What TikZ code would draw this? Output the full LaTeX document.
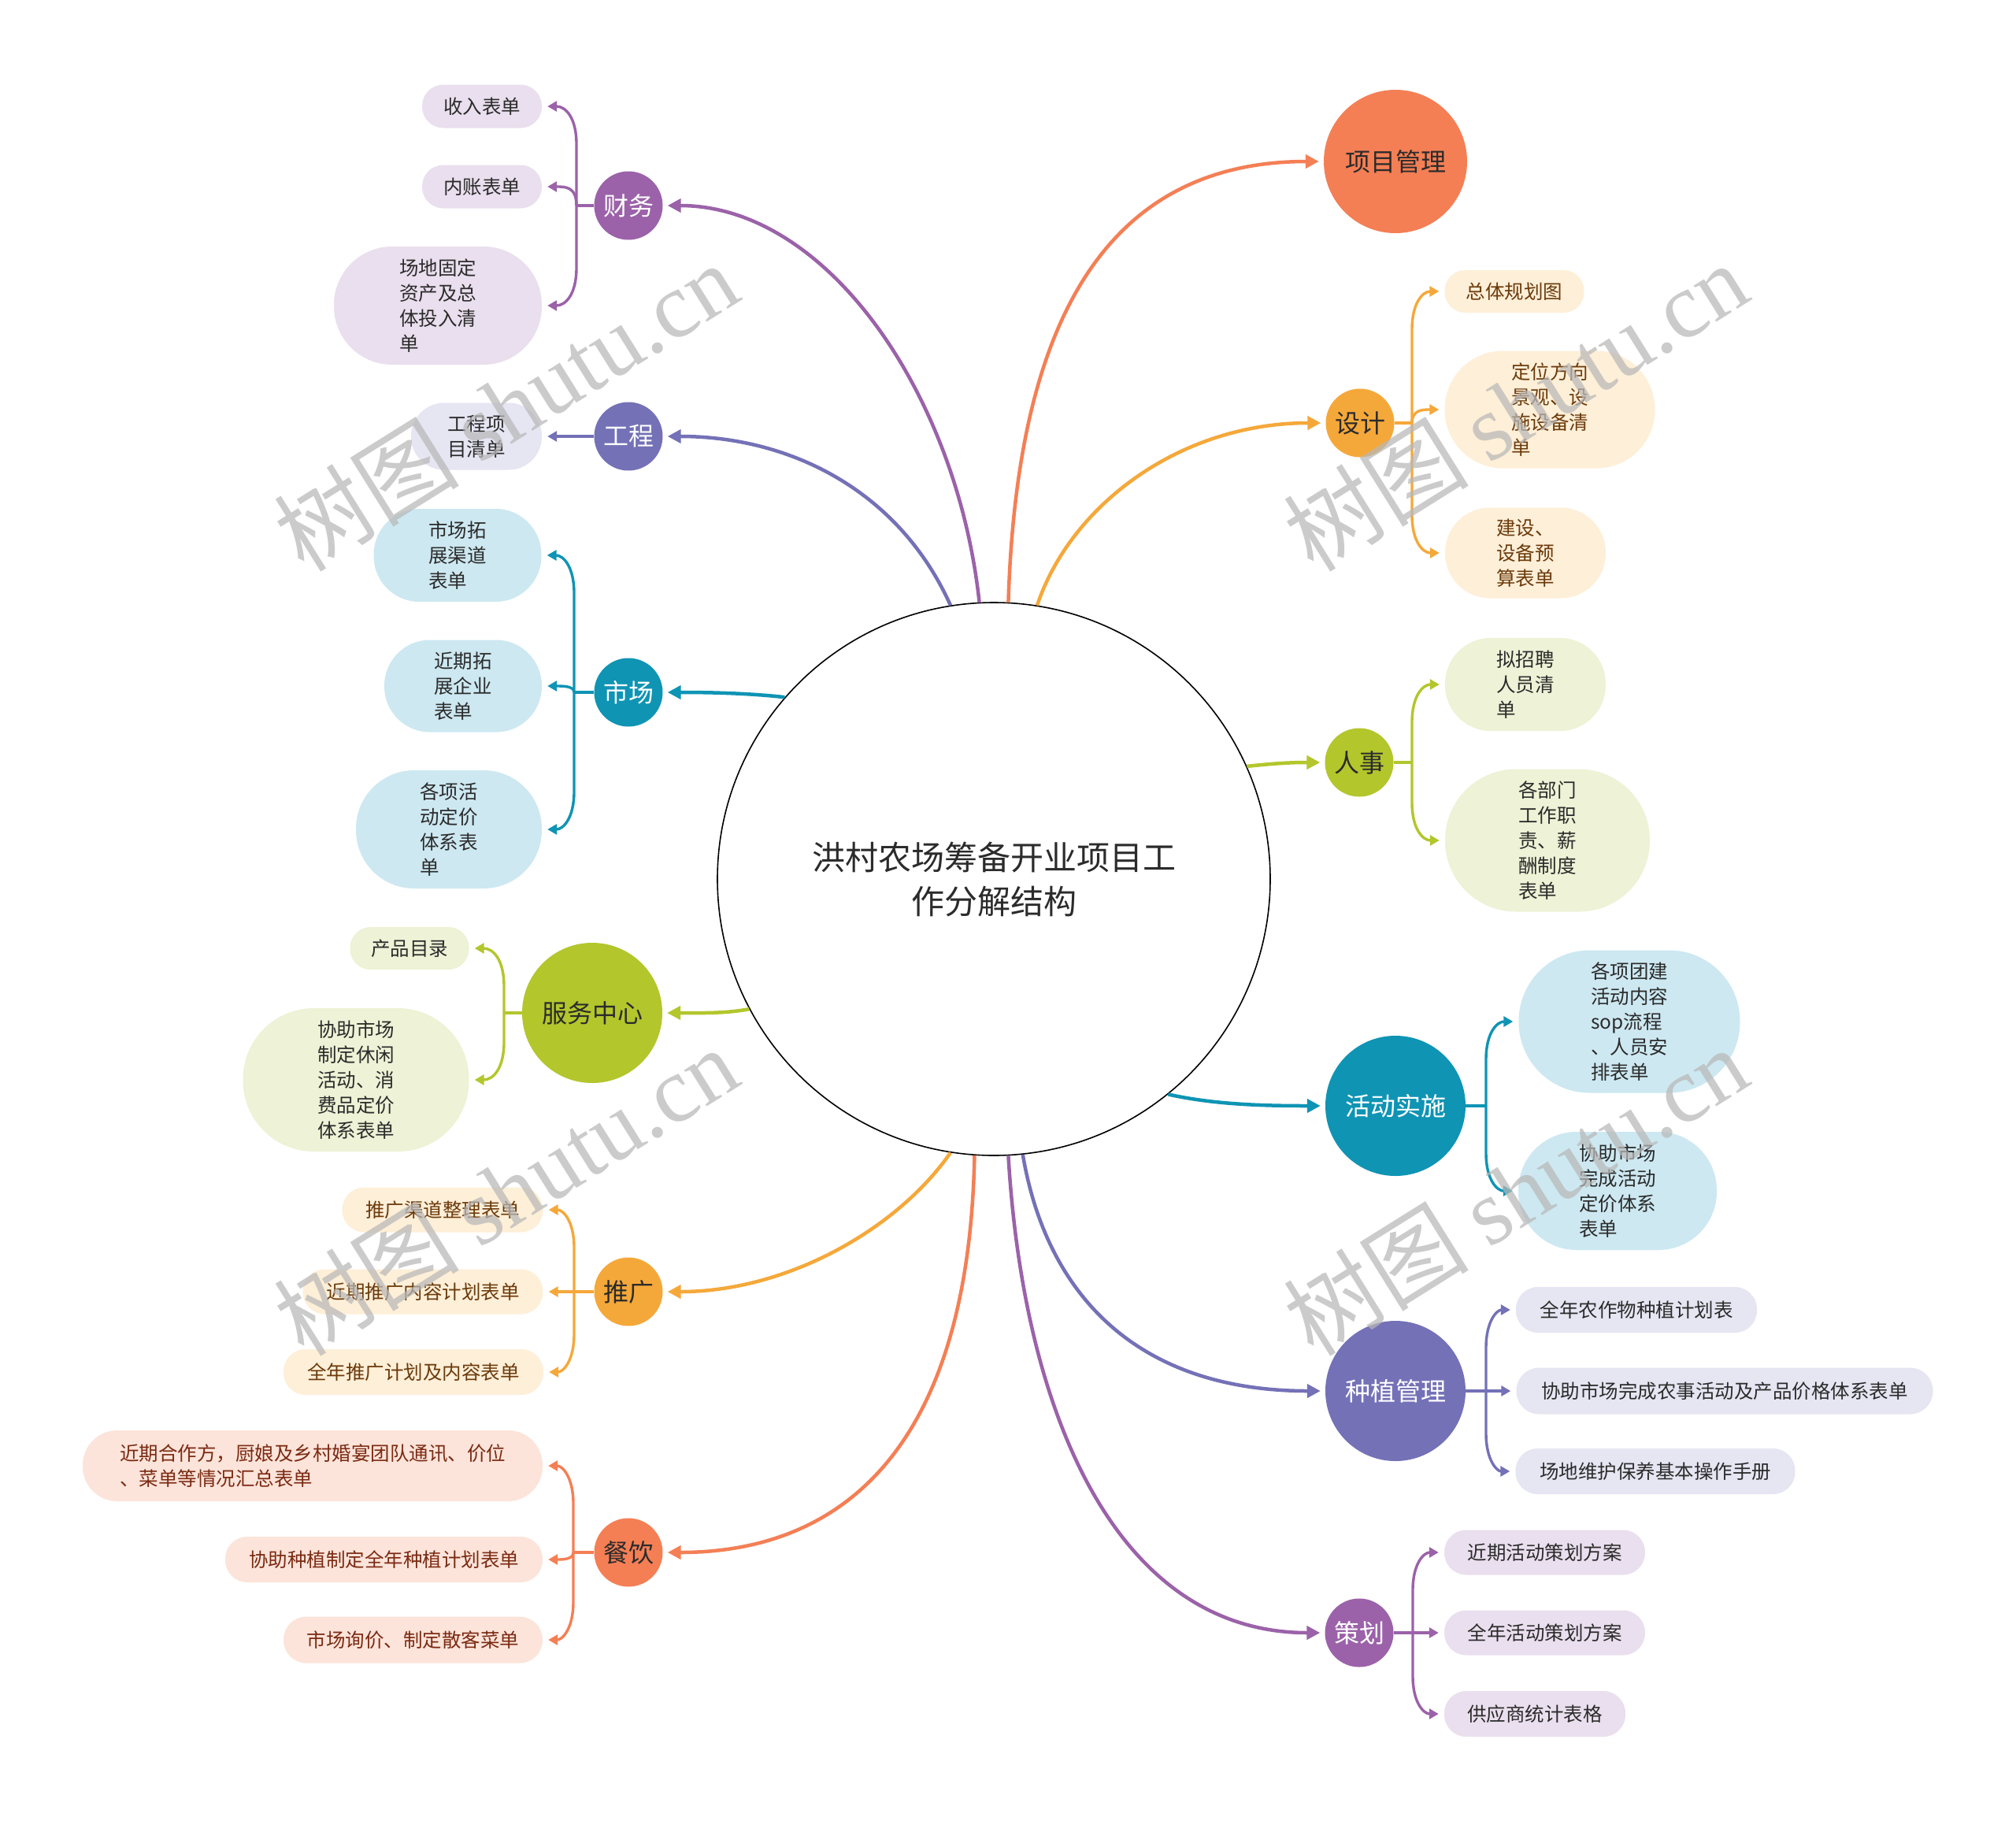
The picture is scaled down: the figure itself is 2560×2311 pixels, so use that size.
\documentclass[tikz,border=0pt]{standalone}
\usepackage{fontspec}
\setmainfont{Noto Sans CJK SC}
\newfontfamily\wmserif{Liberation Serif}
\usetikzlibrary{arrows.meta,calc}
\definecolor{cPur}{HTML}{9B62A9}
\definecolor{cVio}{HTML}{7471B7}
\definecolor{cTeal}{HTML}{0F94B4}
\definecolor{cGrn}{HTML}{B3C62C}
\definecolor{cYel}{HTML}{F5A83A}
\definecolor{cSal}{HTML}{F47F55}
\definecolor{lPur}{HTML}{EADFEE}
\definecolor{lVio}{HTML}{E6E5F2}
\definecolor{lTeal}{HTML}{CDE8F1}
\definecolor{lGrn}{HTML}{EEF2D6}
\definecolor{lYel}{HTML}{FEEFD8}
\definecolor{lSal}{HTML}{FCE4DA}
\definecolor{tYel}{HTML}{6B3A0B}
\definecolor{tSal}{HTML}{7B2A12}
\definecolor{tDark}{HTML}{2B2B2B}
\tikzset{
  mainline/.style={line width=4.5pt, -{Triangle[length=17pt,width=17pt]}, shorten >=6pt},
  subline/.style={line width=3.4pt, -{Triangle[length=12pt,width=13pt]}, shorten >=7pt},
  stub/.style={line width=3.4pt},
  bigc/.style={circle, minimum size=178pt, inner sep=0pt, font=\fontsize{32}{38}\selectfont},
  smc/.style={circle, minimum size=87pt, inner sep=0pt, font=\fontsize{32}{38}\selectfont},
  leaf/.style={rectangle, inner sep=0pt, align=left, font=\fontsize{24.5}{32}\selectfont},
  pill/.style n args={3}{minimum width=#1pt, minimum height=#2pt, rounded corners=#3pt},
  wm/.style={font=\fontsize{118}{118}\selectfont, text=black!28, text opacity=0.72, rotate=32},
}
\newcommand\kidfar[5]{%
  \draw[subline,#1] (#2) -- ($(#2 |- #3)+(0,{-48*#4})$) .. controls ($(#2 |- #3)+(0,{-14*#4})$) and ($(#2 |- #3)+({14*#5},0)$) .. (#3);}
\newcommand\kidnear[4]{%
  \draw[subline,#1] (#2) .. controls ($(#2 |- #3)$) and ($(#2 |- #3)+({14*#4},0)$) .. (#3);}
\begin{document}
\begin{tikzpicture}[x=1pt,y=1pt]
\fill[white] (0,0) rectangle (2560,-2311);
\useasboundingbox (0,0) rectangle (2560,-2311);

% centre
\node[circle, draw=black, line width=1.6pt, fill=white, minimum size=702pt, inner sep=0pt,
  align=center, font=\fontsize{42}{56}\selectfont, text=tDark] (c) at (1262,-1116)
  {洪村农场筹备开业项目工\\作分解结构};

% main topics
\node[bigc, fill=cSal, text=tDark, minimum size=182pt] (pm) at (1772,-205) {项目管理};
\node[smc, fill=cYel, text=tDark] (sj) at (1727,-537) {设计};
\node[smc, fill=cGrn, text=tDark] (rs) at (1726,-968) {人事};
\node[bigc, fill=cTeal, text=white] (hd) at (1772,-1404) {活动实施};
\node[bigc, fill=cVio, text=white] (zz) at (1772,-1766) {种植管理};
\node[smc, fill=cPur, text=white] (ch) at (1726,-2073) {策划};
\node[smc, fill=cPur, text=white] (cw) at (798,-261) {财务};
\node[smc, fill=cVio, text=white] (gc) at (798,-554) {工程};
\node[smc, fill=cTeal, text=white] (sc) at (798,-879) {市场};
\node[bigc, fill=cGrn, text=tDark] (fw) at (752,-1286) {服务中心};
\node[smc, fill=cYel, text=tDark] (tg) at (798,-1640) {推广};
\node[smc, fill=cSal, text=tDark] (cy) at (798,-1971) {餐饮};

% junctions
\coordinate (j1) at (732,-261);
\coordinate (j3) at (729,-879);
\coordinate (j4) at (640,-1286);
\coordinate (j5) at (729,-1640);
\coordinate (j6) at (728,-1971);
\coordinate (k1) at (1793,-537);
\coordinate (k2) at (1793,-968);
\coordinate (k3) at (1887,-1404);
\coordinate (k4) at (1887,-1766);
\coordinate (k5) at (1794,-2073);

% leaves: 财务
\node[leaf, pill={152}{55}{27}, fill=lPur, text=tDark] (f1) at (612,-135) {收入表单};
\node[leaf, pill={152}{55}{27}, fill=lPur, text=tDark] (f2) at (612,-237) {内账表单};
\node[leaf, pill={264}{150}{74}, fill=lPur, text=tDark] (f3) at (556,-388) {场地固定\\资产及总\\体投入清\\单};
% 工程
\node[leaf, pill={166}{85}{42}, fill=lVio, text=tDark] (g1) at (605,-554) {工程项\\目清单};
% 市场
\node[leaf, pill={213}{118}{58}, fill=lTeal, text=tDark] (m1) at (581,-705) {市场拓\\展渠道\\表单};
\node[leaf, pill={200}{117}{58}, fill=lTeal, text=tDark] (m2) at (588,-871) {近期拓\\展企业\\表单};
\node[leaf, pill={236}{150}{74}, fill=lTeal, text=tDark] (m3) at (570,-1053) {各项活\\动定价\\体系表\\单};
% 服务中心
\node[leaf, pill={151}{54}{26}, fill=lGrn, text=tDark] (s1) at (520,-1204) {产品目录};
\node[leaf, pill={287}{182}{90}, fill=lGrn, text=tDark] (s2) at (452,-1371) {协助市场\\制定休闲\\活动、消\\费品定价\\体系表单};
% 推广
\node[leaf, pill={255}{57}{28}, fill=lYel, text=tYel] (t1) at (562,-1536) {推广渠道整理表单};
\node[leaf, pill={305}{57}{28}, fill=lYel, text=tYel] (t2) at (537,-1640) {近期推广内容计划表单};
\node[leaf, pill={330}{58}{28}, fill=lYel, text=tYel] (t3) at (525,-1742) {全年推广计划及内容表单};
% 餐饮
\node[leaf, pill={584}{90}{44}, fill=lSal, text=tSal] (c1) at (397,-1861) {近期合作方，厨娘及乡村婚宴团队通讯、价位\\、菜单等情况汇总表单};
\node[leaf, pill={403}{58}{28}, fill=lSal, text=tSal] (c2) at (487.5,-1980) {协助种植制定全年种植计划表单};
\node[leaf, pill={329}{59}{29}, fill=lSal, text=tSal] (c3) at (524.5,-2082) {市场询价、制定散客菜单};
% 设计
\node[leaf, pill={177}{54}{26}, fill=lYel, text=tYel] (d1) at (1923,-370) {总体规划图};
\node[leaf, pill={267}{149}{74}, fill=lYel, text=tYel] (d2) at (1968,-520) {定位方向\\景观、设\\施设备清\\单};
\node[leaf, pill={204}{115}{57}, fill=lYel, text=tYel] (d3) at (1937,-702) {建设、\\设备预\\算表单};
% 人事
\node[leaf, pill={204}{118}{58}, fill=lGrn, text=tDark] (r1) at (1937,-869) {拟招聘\\人员清\\单};
\node[leaf, pill={260}{181}{90}, fill=lGrn, text=tDark] (r2) at (1965,-1067) {各部门\\工作职\\责、薪\\酬制度\\表单};
% 活动实施
\node[leaf, pill={281}{181}{90}, fill=lTeal, text=tDark] (a1) at (2069,-1297) {各项团建\\活动内容\\sop流程\\、人员安\\排表单};
\node[leaf, pill={252}{150}{74}, fill=lTeal, text=tDark] (a2) at (2054,-1512) {协助市场\\完成活动\\定价体系\\表单};
% 种植管理
\node[leaf, pill={306}{58}{28}, fill=lVio, text=tDark] (p1) at (2078,-1663) {全年农作物种植计划表};
\node[leaf, pill={529}{59}{29}, fill=lVio, text=tDark] (p2) at (2190,-1766) {协助市场完成农事活动及产品价格体系表单};
\node[leaf, pill={355}{58}{28}, fill=lVio, text=tDark] (p3) at (2102,-1868) {场地维护保养基本操作手册};
% 策划
\node[leaf, pill={255}{57}{28}, fill=lPur, text=tDark] (h1) at (1961.5,-1971) {近期活动策划方案};
\node[leaf, pill={255}{57}{28}, fill=lPur, text=tDark] (h2) at (1961.5,-2073) {全年活动策划方案};
\node[leaf, pill={230}{58}{28}, fill=lPur, text=tDark] (h3) at (1949,-2176) {供应商统计表格};

% main connectors
\draw[mainline, cSal] (c.87) .. controls (1290,-450) and (1380,-205) .. (pm.west);
\draw[mainline, cYel] (c.81) .. controls (1360,-640) and (1500,-537) .. (sj.west);
\draw[mainline, cGrn] (c.24.7) .. controls (1620,-969) and (1640,-968) .. (rs.west);
\draw[mainline, cTeal] (c.309.6) .. controls (1540,-1402) and (1600,-1404) .. (hd.west);
\draw[mainline, cVio] (c.276.7) .. controls (1330,-1650) and (1450,-1766) .. (zz.west);
\draw[mainline, cPur] (c.273) .. controls (1300,-1800) and (1420,-2073) .. (ch.west);
\draw[mainline, cPur] (c.93.6) .. controls (1215,-500) and (1050,-261) .. (cw.east);
\draw[mainline, cVio] (c.99.5) .. controls (1140,-620) and (1000,-554) .. (gc.east);
\draw[mainline, cTeal] (c.139) .. controls (950,-880) and (900,-879) .. (sc.east);
\draw[mainline, cGrn] (c.208.6) .. controls (920,-1287) and (890,-1286) .. (fw.east);
\draw[mainline, cYel] (c.261.5) .. controls (1140,-1560) and (1000,-1640) .. (tg.east);
\draw[mainline, cSal] (c.266.4) .. controls (1230,-1850) and (1060,-1971) .. (cy.east);

% stubs
\draw[stub, cPur] (cw.west) -- (j1);
\draw[stub, cTeal] (sc.west) -- (j3);
\draw[stub, cGrn] (fw.west) -- (j4);
\draw[stub, cYel] (tg.west) -- (j5);
\draw[stub, cSal] (cy.west) -- (j6);
\draw[stub, cYel] (sj.east) -- (k1);
\draw[stub, cGrn] (rs.east) -- (k2);
\draw[stub, cTeal] (hd.east) -- (k3);
\draw[stub, cVio] (zz.east) -- (k4);
\draw[stub, cPur] (ch.east) -- (k5);

% child connectors
\kidfar{cPur}{j1}{f1.east}{1}{-1}
\kidnear{cPur}{j1}{f2.east}{-1}
\kidfar{cPur}{j1}{f3.east}{-1}{-1}
\draw[subline, cVio] (gc.west) -- (g1.east);
\kidfar{cTeal}{j3}{m1.east}{1}{-1}
\kidnear{cTeal}{j3}{m2.east}{-1}
\kidfar{cTeal}{j3}{m3.east}{-1}{-1}
\kidfar{cGrn}{j4}{s1.east}{1}{-1}
\kidfar{cGrn}{j4}{s2.east}{-1}{-1}
\kidfar{cYel}{j5}{t1.east}{1}{-1}
\draw[subline, cYel] (j5) -- (t2.east);
\kidfar{cYel}{j5}{t3.east}{-1}{-1}
\kidfar{cSal}{j6}{c1.east}{1}{-1}
\kidnear{cSal}{j6}{c2.east}{-1}
\kidfar{cSal}{j6}{c3.east}{-1}{-1}
\kidfar{cYel}{k1}{d1.west}{1}{1}
\kidnear{cYel}{k1}{d2.west}{1}
\kidfar{cYel}{k1}{d3.west}{-1}{1}
\kidfar{cGrn}{k2}{r1.west}{1}{1}
\kidfar{cGrn}{k2}{r2.west}{-1}{1}
\kidfar{cTeal}{k3}{a1.west}{1}{1}
\kidfar{cTeal}{k3}{a2.west}{-1}{1}
\kidfar{cVio}{k4}{p1.west}{1}{1}
\draw[subline, cVio] (k4) -- (p2.west);
\kidfar{cVio}{k4}{p3.west}{-1}{1}
\kidfar{cPur}{k5}{h1.west}{1}{1}
\draw[subline, cPur] (k5) -- (h2.west);
\kidfar{cPur}{k5}{h3.west}{-1}{1}

% watermarks
\node[wm] (w1) at (642,-516) {树图 {\wmserif shutu.cn}};
\node[wm] (w2) at (1924,-516) {树图 {\wmserif shutu.cn}};
\node[wm] (w3) at (642,-1512) {树图 {\wmserif shutu.cn}};
\node[wm] (w4) at (1924,-1512) {树图 {\wmserif shutu.cn}};
\end{tikzpicture}
\end{document}
